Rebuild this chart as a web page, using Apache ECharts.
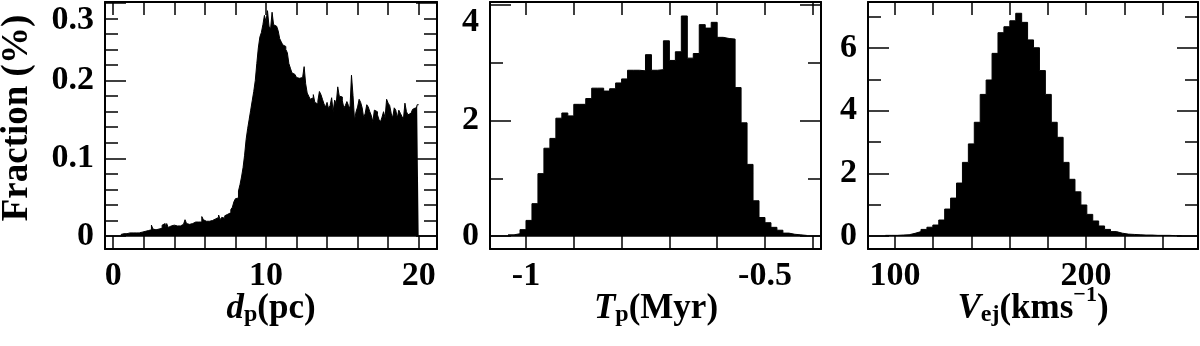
<!DOCTYPE html>
<html>
<head>
<meta charset="utf-8">
<style>
  html, body { margin: 0; padding: 0; background: #fff; }
  #chart { width: 1200px; height: 346px; }
</style>
<script src="https://cdn.jsdelivr.net/npm/echarts@6/dist/echarts.min.js"></script>
</head>
<body>
<div id="chart"></div>
<script>
// panel 1: distance d_p (pc), bins of 0.1 pc starting at 0.5
const dpStart = 0.5;
const dpWidth = 0.1;
const dpFraction = [
  0.002, 0.003, 0.002, 0.003, 0.003, 0.004, 0.003, 0.004, 0.005, 0.004,
  0.005, 0.004, 0.006, 0.005, 0.007, 0.006, 0.008, 0.007, 0.009, 0.008,
  0.014, 0.009, 0.008, 0.010, 0.009, 0.011, 0.010, 0.014, 0.016, 0.012,
  0.016, 0.011, 0.013, 0.012, 0.014, 0.012, 0.013, 0.015, 0.013, 0.014,
  0.015, 0.014, 0.021, 0.016, 0.015, 0.017, 0.016, 0.017, 0.018, 0.017,
  0.018, 0.019, 0.018, 0.025, 0.021, 0.019, 0.020, 0.019, 0.021, 0.020,
  0.021, 0.022, 0.021, 0.024, 0.027, 0.021, 0.024, 0.023, 0.026, 0.028,
  0.027, 0.030, 0.034, 0.037, 0.044, 0.048, 0.049, 0.058, 0.066, 0.076,
  0.088, 0.104, 0.124, 0.138, 0.150, 0.162, 0.174, 0.186, 0.200, 0.222,
  0.242, 0.256, 0.262, 0.272, 0.284, 0.276, 0.290, 0.270, 0.266, 0.288,
  0.272, 0.270, 0.268, 0.264, 0.254, 0.250, 0.246, 0.244, 0.240, 0.236,
  0.222, 0.216, 0.210, 0.208, 0.206, 0.204, 0.203, 0.202, 0.204, 0.206,
  0.218, 0.196, 0.184, 0.180, 0.176, 0.178, 0.182, 0.172, 0.170, 0.174,
  0.186, 0.182, 0.176, 0.170, 0.166, 0.172, 0.164, 0.168, 0.178, 0.160,
  0.175, 0.170, 0.192, 0.180, 0.179, 0.174, 0.165, 0.168, 0.173, 0.168,
  0.164, 0.207, 0.181, 0.149, 0.160, 0.166, 0.176, 0.172, 0.165, 0.152,
  0.158, 0.169, 0.166, 0.160, 0.155, 0.147, 0.162, 0.160, 0.156, 0.150,
  0.147, 0.153, 0.160, 0.152, 0.176, 0.171, 0.168, 0.158, 0.152, 0.165,
  0.162, 0.152, 0.162, 0.158, 0.154, 0.150, 0.171, 0.160, 0.156, 0.158,
  0.158, 0.163, 0.165, 0.160, 0.169
];

// panel 2: time T_p (Myr), bins of 0.0125 Myr
const tpStart = -1.0375;
const tpWidth = 0.0125;
const tpFraction = [
  0.02, 0.04, 0.11, 0.27, 0.56, 1.08, 1.52, 1.69, 2.04, 2.13,
  2.08, 2.28, 2.28, 2.38, 2.56, 2.56, 2.51, 2.55, 2.65, 2.72,
  2.87, 2.87, 2.86, 3.14, 2.87, 2.88, 3.38, 3.04, 3.19, 3.81,
  3.08, 3.16, 3.66, 3.60, 3.70, 3.44, 3.42, 3.41, 2.57, 1.96,
  1.24, 0.61, 0.32, 0.23, 0.15, 0.10, 0.05, 0.03, 0.02, 0.01
];

// panel 3: ejection velocity V_ej (km/s)
const vejStart = 95;
const vejWidth = 3.1;
const vejFraction = [
  0.02, 0.02, 0.03, 0.04, 0.085, 0.14, 0.21, 0.28, 0.35, 0.51,
  0.86, 1.21, 1.69, 2.35, 2.94, 3.63, 4.52, 4.98, 5.83, 6.49,
  6.68, 6.87, 7.11, 6.82, 6.26, 6.01, 5.28, 4.52, 3.63, 3.15,
  2.35, 1.81, 1.41, 0.99, 0.69, 0.48, 0.32, 0.21, 0.14, 0.09,
  0.06, 0.05, 0.04, 0.03, 0.03, 0.02, 0.02, 0.02, 0.01, 0.01
];

// ticks and labels
const dpTicks = [0, 2, 4, 6, 8, 10, 12, 14, 16, 18, 20];
const dpLabels = [0, 10, 20];
const fracMajor = [0, 0.1, 0.2, 0.3];
const fracMinor = [0, 0.02, 0.04, 0.06, 0.08, 0.1, 0.12, 0.14, 0.16, 0.18, 0.2, 0.22, 0.24, 0.26, 0.28, 0.3];
const tpTicks = [-1, -0.9, -0.8, -0.7, -0.6, -0.5, -0.4];
const tpLabels = [-1, -0.5];
const tpMajor = [0, 2, 4];
const tpMinor = [1, 3];
const vejTicks = [100, 120, 140, 160, 180, 200, 220, 240];
const vejLabels = [100, 200];
const vejMajor = [0, 2, 4, 6];
const vejMinor = [1, 3, 5, 7];

const font = 'Liberation Serif';
const labelStyle = { fontFamily: font, fontWeight: 'bold', fontSize: 34, color: '#000' };

function steps (start, width, values) {
  const pts = values.map((v, i) => [start + i * width, v]);
  pts.push([start + values.length * width, values[values.length - 1]]);
  return pts;
}

function xAxes (grid, min, max, ticks, labels) {
  return [
    {
      type: 'value', gridIndex: grid, position: 'bottom', min: min, max: max,
      axisLine: { onZero: false, lineStyle: { color: '#000', width: 2 } },
      axisTick: { inside: true, length: 13, customValues: ticks, lineStyle: { color: '#000', width: 1.5 } },
      axisLabel: Object.assign({ customValues: labels, margin: 10 }, labelStyle),
      splitLine: { show: false }
    },
    {
      type: 'value', gridIndex: grid, position: 'top', min: min, max: max,
      axisLine: { onZero: false, lineStyle: { color: '#000', width: 2 } },
      axisTick: { inside: true, length: 13, customValues: ticks, lineStyle: { color: '#000', width: 1.5 } },
      axisLabel: { show: false },
      splitLine: { show: false }
    }
  ];
}

// topLabelDown: the top label sits at the box edge, so push it down inside the picture
function yAxes (grid, min, max, major, minor, topLabelDown) {
  const tickLine = { color: '#000', width: 1.5 };
  const base = { type: 'value', gridIndex: grid, min: min, max: max, splitLine: { show: false } };
  const label = Object.assign({ customValues: major, margin: 11 }, labelStyle);
  if (topLabelDown) label.verticalAlignMaxLabel = 'top';
  return [
    Object.assign({}, base, {
      position: 'left',
      axisLine: { show: true, onZero: false, lineStyle: { color: '#000', width: 2 } },
      axisTick: { inside: true, length: 21, customValues: major, lineStyle: tickLine },
      axisLabel: label
    }),
    Object.assign({}, base, {
      position: 'left',
      axisLine: { show: false, onZero: false },
      axisTick: { inside: true, length: 13, customValues: minor, lineStyle: tickLine },
      axisLabel: { show: false }
    }),
    Object.assign({}, base, {
      position: 'right',
      axisLine: { show: true, onZero: false, lineStyle: { color: '#000', width: 2 } },
      axisTick: { inside: true, length: 21, customValues: major, lineStyle: tickLine },
      axisLabel: { show: false }
    }),
    Object.assign({}, base, {
      position: 'right',
      axisLine: { show: false, onZero: false },
      axisTick: { inside: true, length: 13, customValues: minor, lineStyle: tickLine },
      axisLabel: { show: false }
    })
  ];
}

function histSeries (grid, start, width, values) {
  return {
    type: 'line',
    xAxisIndex: grid * 2,
    yAxisIndex: grid * 4,
    step: 'end',
    symbol: 'none',
    showSymbol: false,
    lineStyle: { color: '#000', width: 1 },
    areaStyle: { color: '#000', opacity: 1 },
    data: steps(start, width, values),
    markLine: {
      silent: true,
      symbol: 'none',
      label: { show: false },
      lineStyle: { color: '#000', width: 1.5, type: 'solid' },
      data: [{ yAxis: 0 }]
    }
  };
}

function titleRich (size) {
  return {
    i: { fontFamily: font, fontWeight: 'bold', fontStyle: 'italic', fontSize: size },
    n: { fontFamily: font, fontWeight: 'bold', fontSize: size },
    s: { fontFamily: font, fontWeight: 'bold', fontSize: 24, padding: [12, 0, 0, 0] },
    u: { fontFamily: font, fontWeight: 'bold', fontSize: 22, padding: [0, 0, 27, 0] }
  };
}

const chart = echarts.init(document.getElementById('chart'), null, { renderer: 'canvas' });

const gridBase = { top: 2, height: 247, outerBoundsMode: 'none', containLabel: false };

const option = {
  animation: false,
  backgroundColor: '#fff',
  grid: [
    Object.assign({ left: 105, width: 332 }, gridBase),
    Object.assign({ left: 490, width: 331 }, gridBase),
    Object.assign({ left: 868, width: 330 }, gridBase)
  ],
  xAxis: [].concat(
    xAxes(0, -0.54, 21.2, dpTicks, dpLabels),
    xAxes(1, -1.0753, -0.3828, tpTicks, tpLabels),
    xAxes(2, 85.86, 258.6, vejTicks, vejLabels)
  ),
  yAxis: [].concat(
    yAxes(0, -0.0167, 0.3012, fracMajor, fracMinor, true),
    yAxes(1, -0.225, 4.052, tpMajor, tpMinor, true),
    yAxes(2, -0.415, 7.47, vejMajor, vejMinor, false)
  ),
  series: [
    histSeries(0, dpStart, dpWidth, dpFraction),
    histSeries(1, tpStart, tpWidth, tpFraction),
    histSeries(2, vejStart, vejWidth, vejFraction)
  ],
  graphic: [
    {
      type: 'text', x: 17, y: 118, rotation: Math.PI / 2,
      style: {
        text: 'Fraction (%)', fontFamily: font, fontWeight: 'bold', fontSize: 37,
        fill: '#000', align: 'center', verticalAlign: 'middle'
      }
    },
    {
      type: 'text', x: 271, y: 309,
      style: { text: '{i|d}{s|p}{n|(pc)}', rich: titleRich(35), fill: '#000', align: 'center', verticalAlign: 'middle' }
    },
    {
      type: 'text', x: 656, y: 309,
      style: { text: '{i|T}{s|p}{n|(Myr)}', rich: titleRich(35), fill: '#000', align: 'center', verticalAlign: 'middle' }
    },
    {
      type: 'text', x: 1033, y: 309,
      style: { text: '{i|V}{s|ej}{n|(kms}{u|\u22121}{n|)}', rich: titleRich(35), fill: '#000', align: 'center', verticalAlign: 'middle' }
    }
  ]
};

chart.setOption(option);
window.addEventListener('resize', () => chart.resize());
</script>
</body>
</html>
